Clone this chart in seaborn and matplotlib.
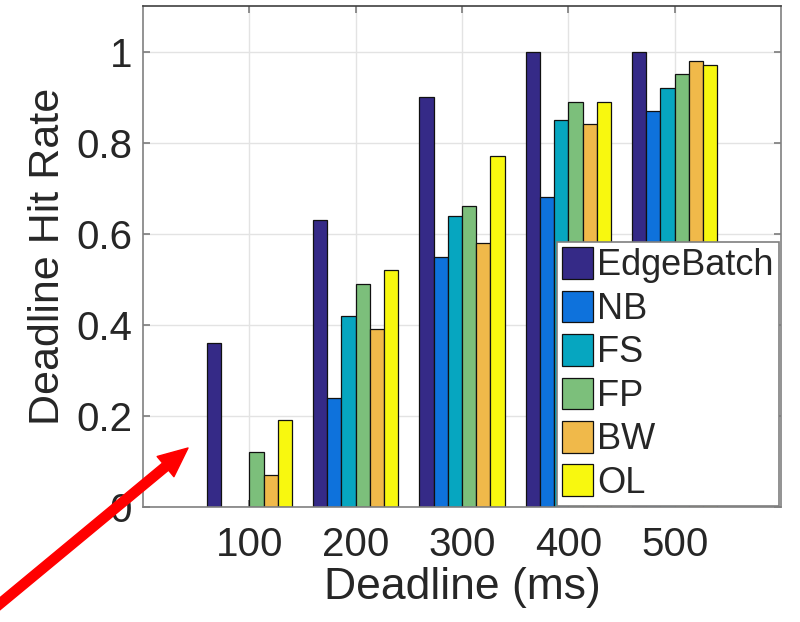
import matplotlib
matplotlib.use("Agg")
import matplotlib.pyplot as plt
import seaborn as sns
import pandas as pd

deadlines = ["100", "200", "300", "400", "500"]
methods = ["EdgeBatch", "NB", "FS", "FP", "BW", "OL"]
edgebatch = [0.36, 0.63, 0.90, 1.00, 1.00]
nb = [0.00, 0.24, 0.55, 0.68, 0.87]
fs = [0.00, 0.42, 0.64, 0.85, 0.92]
fp = [0.12, 0.49, 0.66, 0.89, 0.95]
bw = [0.07, 0.39, 0.58, 0.84, 0.98]
ol = [0.19, 0.52, 0.77, 0.89, 0.97]
colors = ["#352a87", "#0e72dc", "#06a6c0", "#7cbf7b", "#f0b94a", "#f8f80f"]
yticks = [0, 0.2, 0.4, 0.6, 0.8, 1]
ytick_labels = ["0", "0.2", "0.4", "0.6", "0.8", "1"]

series = [edgebatch, nb, fs, fp, bw, ol]
rows = []
for m, vals in zip(methods, series):
    for d, v in zip(deadlines, vals):
        rows.append({"Deadline": d, "Rate": v, "Method": m})
df = pd.DataFrame(rows)

sns.set_theme(style="white")
plt.rcParams["font.family"] = ["Liberation Sans", "DejaVu Sans"]

fig = plt.figure(figsize=(8, 6.22), dpi=100)
ax = fig.add_axes([143 / 800, 1 - 507 / 622, (781 - 143) / 800, (507 - 6) / 622])

sns.barplot(data=df, x="Deadline", y="Rate", hue="Method", order=deadlines,
            hue_order=methods, palette=colors, saturation=1, errorbar=None,
            width=0.8, edgecolor="#111111", linewidth=0.9, ax=ax, legend=True)

ax.set_xlim(-1, 5)
ax.set_ylim(0, 1.1)
ax.set_yticks(yticks)
ax.set_yticklabels(ytick_labels)
ax.set_axisbelow(True)
ax.grid(True, color="#e3e3e3", linewidth=1.0)
ax.tick_params(axis="both", which="both", direction="in", length=5,
               color="#808080", labelsize=29, labelcolor="#262626",
               top=True, right=True, left=True, bottom=True)
ax.tick_params(axis="x", pad=14)
ax.tick_params(axis="y", pad=8)
for name, sp in ax.spines.items():
    sp.set_visible(True)
    sp.set_color("#808080")
    sp.set_linewidth(1.2)
ax.spines["top"].set_color("#404040")

ax.set_xlabel("Deadline (ms)", fontsize=32, color="#262626", labelpad=2)
ax.set_ylabel("Deadline Hit Rate", fontsize=31, color="#262626", labelpad=6)

handles, labels = ax.get_legend_handles_labels()
if ax.get_legend() is not None:
    ax.get_legend().remove()
leg = ax.legend(handles, labels, loc="lower right", bbox_to_anchor=(0.997, 0.002),
                borderaxespad=0, fontsize=26, frameon=True, fancybox=False,
                edgecolor="#7f7f7f", framealpha=1, handlelength=0.85,
                handleheight=0.97, handletextpad=0.12, labelspacing=0.2,
                borderpad=0.15)
leg.get_frame().set_linewidth(1.2)

ax.annotate("", xy=(188, 622 - 448), xycoords="figure pixels",
            xytext=(-10, 622 - 612), textcoords="figure pixels",
            arrowprops=dict(arrowstyle="simple,head_length=1.0,head_width=0.9,tail_width=0.32",
                            color="red", mutation_scale=21, shrinkA=0, shrinkB=0),
            annotation_clip=False)

fig.savefig("out.png", dpi=100)
